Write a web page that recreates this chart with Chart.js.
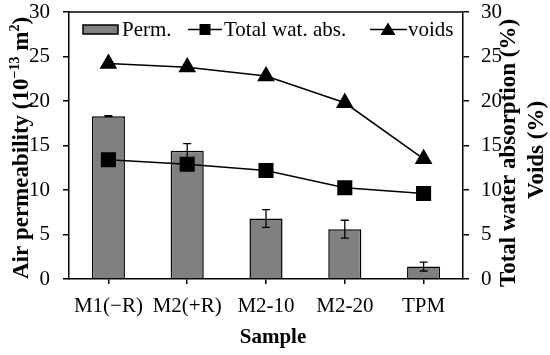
<!DOCTYPE html>
<html>
<head>
<meta charset="utf-8">
<script src="https://cdn.jsdelivr.net/npm/chart.js@4.4.0/dist/chart.umd.min.js"></script>
<style>
  html, body { margin: 0; padding: 0; background: #fff; }
  canvas { display: block; }
</style>
</head>
<body>
<canvas id="chart" width="550" height="355"></canvas>
<script>
// samples on the x axis
const samples = ['M1(\u2212R)', 'M2(+R)', 'M2-10', 'M2-20', 'TPM'];
// air permeability (10^-13 m2) and its error
const permValues = [18.3, 14.4, 6.8, 5.6, 1.4];
const permErrors = [0.05, 0.8, 1.0, 1.0, 0.5];
// total water absorption (%)
const absValues = [13.4, 12.9, 12.2, 10.25, 9.6];
// voids (%)
const voidValues = [24.2, 23.8, 22.8, 19.8, 13.5];

const serif = '"Liberation Serif", "Times New Roman", serif';

function axisY(pos) {
  return {
    position: pos,
    min: 0,
    max: 30,
    ticks: {
      stepSize: 2.5,
      color: '#000',
      padding: pos === 'left' ? 13 : 12,
      font: { family: serif, size: 21 },
      callback: v => (v % 5 === 0 ? v : '')
    },
    grid: { drawOnChartArea: false, tickLength: 6, color: '#000', lineWidth: 1.5 },
    border: { color: '#000', width: 1.5 },
    afterFit: s => {
      s.width = pos === 'left' ? 69 : 87;
      s.paddingTop = 0;
      s.paddingBottom = 0;
    }
  };
}

// rotated text (reads bottom to top), baseline at bx, centred on cy
function vText(ctx, parts, bx, cy) {
  let total = 0;
  parts.forEach(p => { ctx.font = p[1]; total += ctx.measureText(p[0]).width; });
  ctx.save();
  ctx.translate(bx, cy);
  ctx.rotate(-Math.PI / 2);
  ctx.textAlign = 'left';
  ctx.textBaseline = 'alphabetic';
  let x = -total / 2;
  parts.forEach(p => {
    ctx.font = p[1];
    ctx.fillText(p[0], x, p[2] || 0);
    x += ctx.measureText(p[0]).width;
  });
  ctx.restore();
}

// error bars, top frame line, titles and legend
const extras = {
  id: 'extras',
  afterDatasetDraw(chart, args) {
    if (args.index !== 0) return;
    const ctx = chart.ctx;
    const y = chart.scales.y;
    const meta = chart.getDatasetMeta(0);
    ctx.save();
    ctx.strokeStyle = '#000';
    ctx.lineWidth = 1.3;
    meta.data.forEach((bar, i) => {
      const top = y.getPixelForValue(permValues[i] + permErrors[i]);
      const bot = y.getPixelForValue(permValues[i] - permErrors[i]);
      ctx.beginPath();
      ctx.moveTo(bar.x, top); ctx.lineTo(bar.x, bot);
      ctx.moveTo(bar.x - 4, top); ctx.lineTo(bar.x + 4, top);
      ctx.moveTo(bar.x - 4, bot); ctx.lineTo(bar.x + 4, bot);
      ctx.stroke();
    });
    ctx.restore();
  },
  afterDraw(chart) {
    const ctx = chart.ctx;
    const a = chart.chartArea;
    ctx.save();
    ctx.strokeStyle = '#000';
    ctx.lineWidth = 1.5;
    ctx.beginPath();
    ctx.moveTo(a.left, a.top);
    ctx.lineTo(a.right, a.top);
    ctx.stroke();

    ctx.fillStyle = '#000';
    // x title
    ctx.font = 'bold 21px ' + serif;
    ctx.textAlign = 'center';
    ctx.textBaseline = 'middle';
    ctx.fillText('Sample', 273, 338);

    // left title with superscripts
    const big = 'bold 23px ' + serif;
    const sup = 'bold 14px ' + serif;
    vText(ctx, [
      ['Air permeability (10', big],
      ['\u221213', sup, -9],
      [' m', big],
      ['2', sup, -9],
      [')', big]
    ], 28, 148);

    // right titles
    vText(ctx, [['Total water absorption (%)', big]], 515, 153);
    vText(ctx, [['Voids (%)', big]], 543, 150);

    // legend
    const ly = 29.5;
    const base = 35.5;
    ctx.font = '21px ' + serif;
    ctx.textAlign = 'left';
    ctx.textBaseline = 'alphabetic';
    ctx.fillStyle = '#808080';
    ctx.fillRect(83, 25, 35, 9);
    ctx.strokeRect(83, 25, 35, 9);
    ctx.fillStyle = '#000';
    ctx.fillText('Perm.', 122, base);

    ctx.beginPath();
    ctx.moveTo(188, ly); ctx.lineTo(222, ly);
    ctx.stroke();
    ctx.fillRect(205 - 5.5, ly - 5.5, 11, 11);
    ctx.fillText('Total wat. abs.', 224, base);

    ctx.beginPath();
    ctx.moveTo(370, ly); ctx.lineTo(407, ly);
    ctx.stroke();
    ctx.beginPath();
    ctx.moveTo(388, ly - 7);
    ctx.lineTo(388 + 7.5, ly + 5.5);
    ctx.lineTo(388 - 7.5, ly + 5.5);
    ctx.closePath();
    ctx.fill();
    ctx.fillText('voids', 408, base);
    ctx.restore();
  }
};

new Chart(document.getElementById('chart').getContext('2d'), {
  type: 'bar',
  data: {
    labels: samples,
    datasets: [
      {
        type: 'bar',
        label: 'Perm.',
        data: permValues,
        backgroundColor: '#808080',
        borderColor: '#000',
        borderWidth: 1.5,
        barPercentage: 0.42,
        categoryPercentage: 1,
        yAxisID: 'y',
        order: 3
      },
      {
        type: 'line',
        label: 'Total wat. abs.',
        data: absValues,
        borderColor: '#000',
        backgroundColor: '#000',
        borderWidth: 1.5,
        pointStyle: 'rect',
        pointRadius: 9.6,
        yAxisID: 'y1',
        order: 2
      },
      {
        type: 'line',
        label: 'voids',
        data: voidValues,
        borderColor: '#000',
        backgroundColor: '#000',
        borderWidth: 1.5,
        pointStyle: 'triangle',
        pointRadius: 8.7,
        yAxisID: 'y1',
        order: 1
      }
    ]
  },
  options: {
    responsive: false,
    animation: false,
    layout: { padding: { top: 12, left: 0, right: 0, bottom: 0 } },
    plugins: { legend: { display: false }, tooltip: { enabled: false } },
    scales: {
      x: {
        offset: true,
        ticks: { color: '#000', padding: 10, maxRotation: 0, font: { family: serif, size: 21 } },
        grid: { offset: false, drawOnChartArea: false, tickLength: 5, color: '#000', lineWidth: 1.5 },
        border: { color: '#000', width: 1.5 },
        afterFit: s => { s.height = 76; }
      },
      y: axisY('left'),
      y1: axisY('right')
    }
  },
  plugins: [extras]
});
</script>
</body>
</html>
